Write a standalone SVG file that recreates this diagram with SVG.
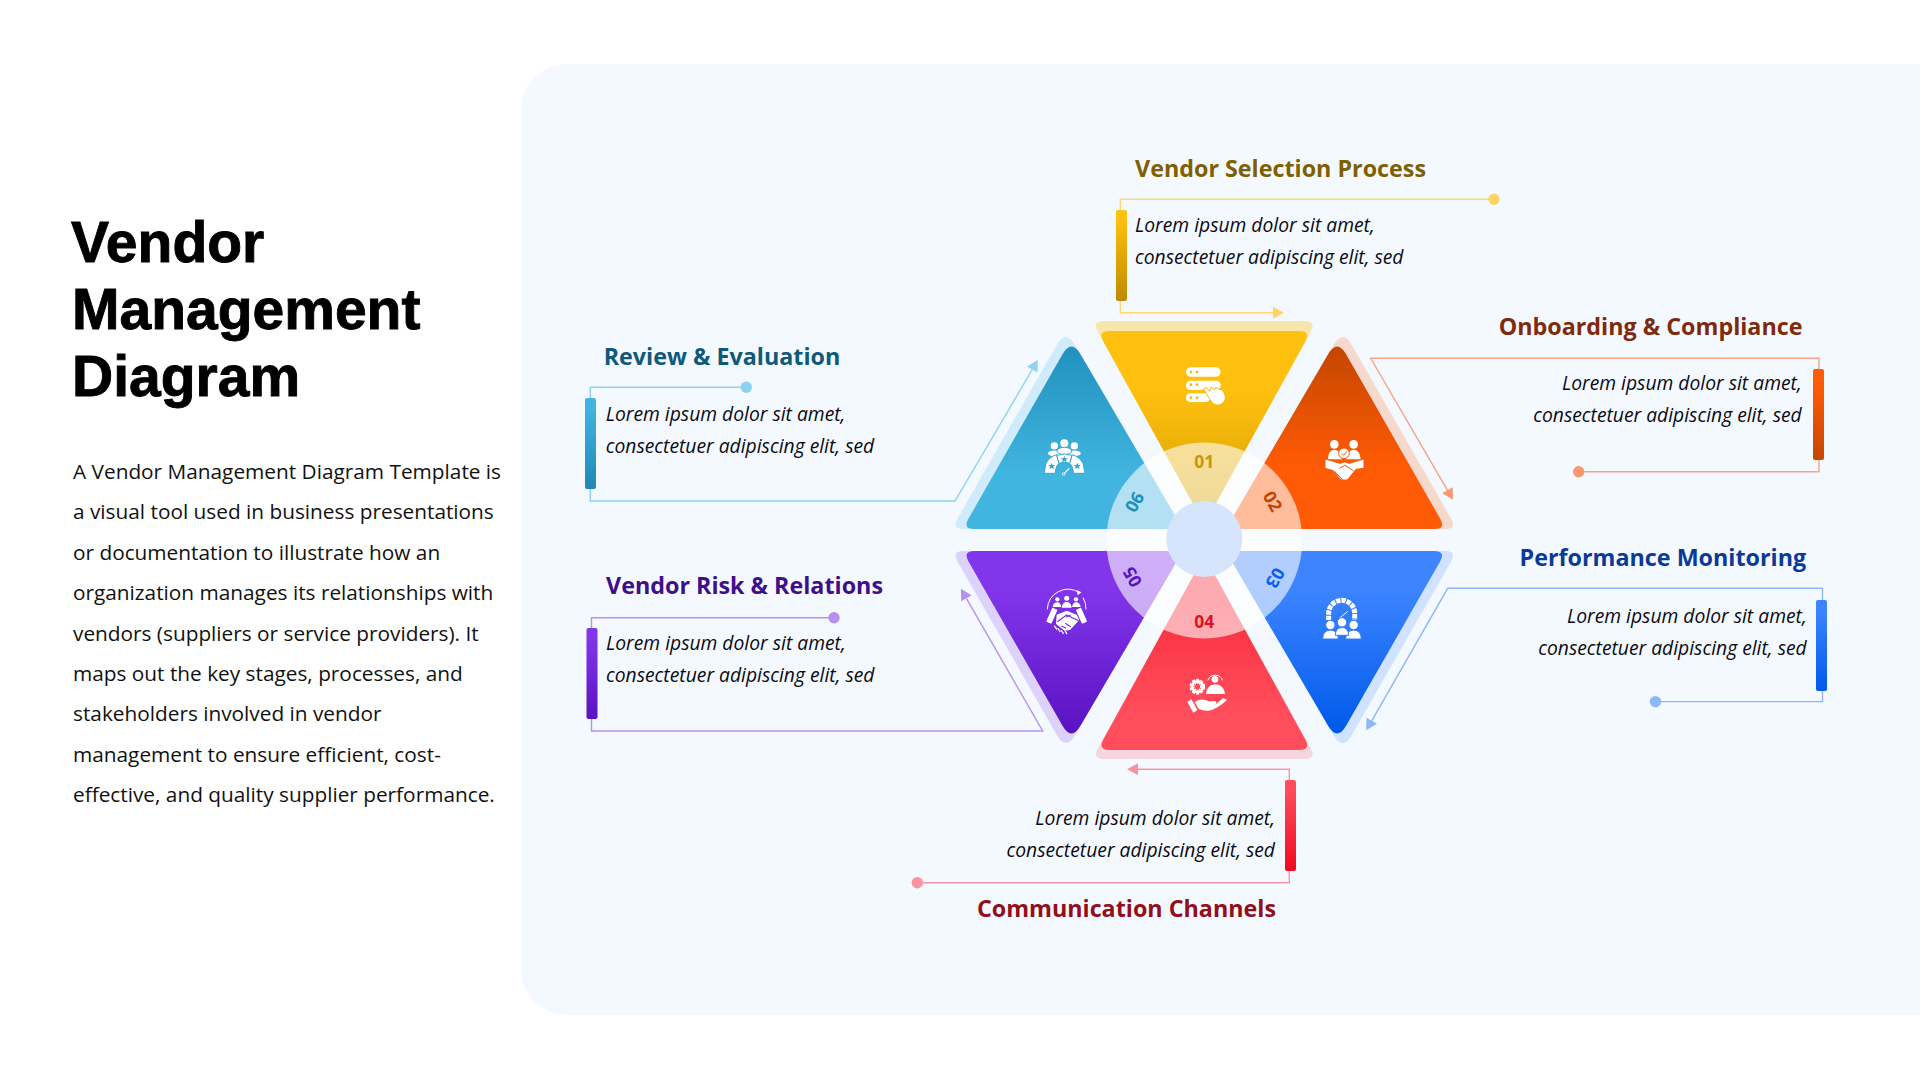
<svg xmlns="http://www.w3.org/2000/svg" width="1920" height="1080" viewBox="0 0 1920 1080">
<style>
.title{font:bold 57px "Liberation Sans",Arial,sans-serif;fill:#000;stroke:#000;stroke-width:.9}
.body{font:20.8px "Open Sans","Noto Sans",sans-serif;fill:#111}
.desc{font:italic 19.3px "Open Sans","Noto Sans",sans-serif;fill:#0a0a14}
.head{font:bold 23.3px "Open Sans","Noto Sans",sans-serif}
.end{text-anchor:end}
.num{font:bold 17.5px "Noto Sans","Open Sans",sans-serif;text-anchor:middle;dominant-baseline:central}
.conn{fill:none;stroke-width:1.4}
.ic{fill:#fff}
.icl{fill:none;stroke:#fff;stroke-linecap:round}
</style>
<defs>
<linearGradient id="gy" x1="0" y1="0" x2="0" y2="1"><stop offset=".3" stop-color="#FFC00F"/><stop offset="1" stop-color="#D39F00"/></linearGradient>
<linearGradient id="go" x1="0" y1="0" x2="0" y2="1"><stop offset="0" stop-color="#C44600"/><stop offset=".65" stop-color="#FF5A05"/></linearGradient>
<linearGradient id="gb" x1="0" y1="0" x2="0" y2="1"><stop offset=".2" stop-color="#3D85FF"/><stop offset="1" stop-color="#0059EA"/></linearGradient>
<linearGradient id="gr" x1="0" y1="0" x2="0" y2="1"><stop offset=".2" stop-color="#F92C3B"/><stop offset=".8" stop-color="#FF4D5C"/></linearGradient>
<linearGradient id="gp" x1="0" y1="0" x2="0" y2="1"><stop offset=".2" stop-color="#8236EC"/><stop offset="1" stop-color="#5A12C2"/></linearGradient>
<linearGradient id="gc" x1="0" y1="0" x2="0" y2="1"><stop offset="0" stop-color="#2191BD"/><stop offset=".7" stop-color="#41B4E0"/></linearGradient>
<linearGradient id="by" x1="0" y1="0" x2="0" y2="1"><stop offset=".1" stop-color="#FFC00F"/><stop offset="1" stop-color="#BF8A00"/></linearGradient>
<linearGradient id="bo" x1="0" y1="0" x2="0" y2="1"><stop offset=".2" stop-color="#FF5A05"/><stop offset="1" stop-color="#C44600"/></linearGradient>
<linearGradient id="bb" x1="0" y1="0" x2="0" y2="1"><stop offset=".1" stop-color="#3D85FF"/><stop offset="1" stop-color="#0059EA"/></linearGradient>
<linearGradient id="br" x1="0" y1="0" x2="0" y2="1"><stop offset=".1" stop-color="#FF4D5C"/><stop offset="1" stop-color="#F00A1E"/></linearGradient>
<linearGradient id="bp" x1="0" y1="0" x2="0" y2="1"><stop offset=".1" stop-color="#8236EC"/><stop offset="1" stop-color="#5A12C2"/></linearGradient>
<linearGradient id="bc" x1="0" y1="0" x2="0" y2="1"><stop offset=".1" stop-color="#41B4E0"/><stop offset="1" stop-color="#2088B5"/></linearGradient>
<marker id="my" markerUnits="userSpaceOnUse" markerWidth="12" markerHeight="12" refX="0" refY="6" orient="auto" overflow="visible"><path d="M0 0L11 6L0 12Z" fill="#FFD466"/></marker>
<marker id="mo" markerUnits="userSpaceOnUse" markerWidth="12" markerHeight="12" refX="0" refY="6" orient="auto" overflow="visible"><path d="M0 0L11 6L0 12Z" fill="#F9976F"/></marker>
<marker id="mb" markerUnits="userSpaceOnUse" markerWidth="12" markerHeight="12" refX="0" refY="6" orient="auto" overflow="visible"><path d="M0 0L11 6L0 12Z" fill="#8DB8F8"/></marker>
<marker id="mr" markerUnits="userSpaceOnUse" markerWidth="12" markerHeight="12" refX="0" refY="6" orient="auto" overflow="visible"><path d="M0 0L11 6L0 12Z" fill="#FB939E"/></marker>
<marker id="mp" markerUnits="userSpaceOnUse" markerWidth="12" markerHeight="12" refX="0" refY="6" orient="auto" overflow="visible"><path d="M0 0L11 6L0 12Z" fill="#B790EE"/></marker>
<marker id="mc" markerUnits="userSpaceOnUse" markerWidth="12" markerHeight="12" refX="0" refY="6" orient="auto" overflow="visible"><path d="M0 0L11 6L0 12Z" fill="#8DD2EE"/></marker>
</defs>
<rect width="1920" height="1080" fill="#fff"/>
<rect x="521" y="64" width="1450" height="951" rx="46" fill="#F4F9FF"/>

<g id="heading">
<text class="title" x="71" y="261.7">Vendor</text>
<text class="title" x="72" y="328.5">Management</text>
<text class="title" x="72" y="396">Diagram</text>
<g class="body">
<text x="73" y="479">A Vendor Management Diagram Template is</text>
<text x="73" y="519.4">a visual tool used in business presentations</text>
<text x="73" y="559.8">or documentation to illustrate how an</text>
<text x="73" y="600.2">organization manages its relationships with</text>
<text x="73" y="640.6">vendors (suppliers or service providers). It</text>
<text x="73" y="681">maps out the key stages, processes, and</text>
<text x="73" y="721.4">stakeholders involved in vendor</text>
<text x="73" y="761.8">management to ensure efficient, cost-</text>
<text x="73" y="802.2">effective, and quality supplier performance.</text>
</g>
</g>

<g id="connectors">
<path class="conn" stroke="#FFD86F" d="M1494 199.3H1120.3V312.7H1273" marker-end="url(#my)"/><circle cx="1494" cy="199.3" r="5.7" fill="#FFD466"/>
<path class="conn" stroke="#F7A283" d="M1578.7 471.7H1819V358.3H1370.7L1447.5 490.3" marker-end="url(#mo)"/><circle cx="1578.7" cy="471.7" r="5.7" fill="#F9976F"/>
<path class="conn" stroke="#8DB8F5" d="M1655.5 701.6H1822.5V588.3H1447.7L1371.7 720.8" marker-end="url(#mb)"/><circle cx="1655.5" cy="701.6" r="5.7" fill="#8DB8F8"/>
<path class="conn" stroke="#FB96A0" d="M917.3 882.7H1289.3V769.3H1138" marker-end="url(#mr)"/><circle cx="917.3" cy="882.7" r="5.7" fill="#FB939E"/>
<path class="conn" stroke="#B990EE" d="M834 617.8H591.5V731H1042.7L966.4 598.3" marker-end="url(#mp)"/><circle cx="834" cy="617.8" r="5.7" fill="#B790EE"/>
<path class="conn" stroke="#8DD2EE" d="M746.3 387.3H590.3V501H955L1032.3 369.5" marker-end="url(#mc)"/><circle cx="746.3" cy="387.3" r="5.7" fill="#8DD2EE"/>
</g>

<g id="node-01">
<g transform="translate(1204.3 540)">
<path fill="#FFC00F" opacity=".35" d="M-100.3 -219H100.3Q112.3 -219 106.5 -208.5L0 -15.7L-106.5 -208.5Q-112.3 -219 -100.3 -219Z"/>
<path fill="url(#gy)" d="M-94.8 -209H94.8Q106.8 -209 101 -198.5L0 -15.7L-101 -198.5Q-106.8 -209 -94.8 -209Z"/>
</g>
<g transform="translate(1100 320) scale(.3333)">
<rect class="ic" x="258" y="142" width="104" height="28" rx="14"/><rect class="ic" x="258" y="182" width="104" height="28" rx="14"/><rect class="ic" x="258" y="220" width="72" height="26" rx="13"/>
<g fill="#F5B60A"><circle cx="273" cy="156" r="4"/><circle cx="291" cy="156" r="4"/><circle cx="273" cy="194" r="4"/><circle cx="291" cy="194" r="4"/><circle cx="273" cy="233" r="4"/><circle cx="291" cy="233" r="4"/></g>
<path class="ic" stroke="#F5B60A" stroke-width="5" paint-order="stroke" d="M312 208L318 204L330 216L334 204L343 210L349 204L358 210L364 210C372 216 376 228 374 238C370 252 356 257 344 252C334 247 328 232 312 208Z"/>
</g>
<text class="head" fill="#7F6000" x="1135" y="177">Vendor Selection Process</text>
<rect x="1116" y="210" width="11" height="91" rx="2" fill="url(#by)"/>
<text class="desc" x="1135" y="231.7">Lorem ipsum dolor sit amet,</text>
<text class="desc" x="1135" y="263.5">consectetuer adipiscing elit, sed</text>
</g>

<g id="node-02">
<g transform="translate(1204.3 540)">
<path fill="#FF5A05" opacity=".2" d="M129.4 -195.3Q138.5 -210.8 147.4 -195.2L246.8 -21.4Q252.8 -11 240.8 -11H21.4Z"/>
<path fill="url(#go)" d="M123.8 -185.8Q132.9 -201.3 141.8 -185.7L235.8 -21.4Q241.8 -11 229.8 -11H21.4Z"/>
</g>
<g transform="translate(1300 400) scale(.3333)">
<circle class="ic" cx="103" cy="133" r="13"/><circle class="ic" cx="161" cy="133" r="13"/>
<path class="ic" d="M84 178Q84 150 103 149Q122 150 126 178ZM138 178Q142 150 161 149Q180 150 182 178Z"/>
<path class="ic" stroke="#F3590A" stroke-width="3" d="M75 177L120 190L134 186L148 190L192 177V205L168 208L142 240L122 240L100 212L75 205Z"/>
<circle class="ic" stroke="#F3590A" stroke-width="3" cx="132" cy="160" r="16"/>
<path fill="none" stroke="#F3590A" stroke-width="3" d="M125 160L131 166L140 154M118 205L135 196L160 212M104 214L128 240"/>
</g>
<text class="head end" fill="#7F2A0C" x="1802.5" y="334.5">Onboarding &amp; Compliance</text>
<rect x="1813" y="369" width="11" height="91" rx="2" fill="url(#bo)"/>
<text class="desc end" x="1801.7" y="390">Lorem ipsum dolor sit amet,</text>
<text class="desc end" x="1801.7" y="422">consectetuer adipiscing elit, sed</text>
</g>

<g id="node-03">
<g transform="translate(1204.3 540)">
<path fill="#3D85FF" opacity=".2" d="M129.4 195.3Q138.5 210.8 147.4 195.2L246.8 21.4Q252.8 11 240.8 11H21.4Z"/>
<path fill="url(#gb)" d="M123.8 185.8Q132.9 201.3 141.8 185.7L235.8 21.4Q241.8 11 229.8 11H21.4Z"/>
</g>
<g transform="translate(1300 560) scale(.3333)">
<path class="icl" stroke-width="15" stroke-dasharray="13 3" d="M86 180V160A39 39 0 0 1 164 160V180" style="stroke-linecap:butt"/>
<path class="icl" stroke-width="3" d="M118 175L142 155"/>
<g class="ic" stroke="#2F7BFB" stroke-width="3">
<circle cx="91" cy="195" r="14"/><circle cx="161" cy="195" r="14"/>
<path d="M68 237Q68 212 91 210Q115 212 115 237ZM137 237Q137 212 161 210Q184 212 184 237Z"/>
<path d="M106 226Q106 204 126 202Q146 204 146 226Z"/>
<circle cx="126" cy="187" r="14"/>
</g>
</g>
<text class="head" fill="#0B3A96" x="1519.6" y="566">Performance Monitoring</text>
<rect x="1816" y="600" width="11" height="91" rx="2" fill="url(#bb)"/>
<text class="desc end" x="1806.7" y="622.6">Lorem ipsum dolor sit amet,</text>
<text class="desc end" x="1806.7" y="654.6">consectetuer adipiscing elit, sed</text>
</g>

<g id="node-04">
<g transform="translate(1204.3 540)">
<path fill="#FF4D5C" opacity=".2" d="M-100.3 219H100.3Q112.3 219 106.5 208.5L0 15.7L-106.5 208.5Q-112.3 219 -100.3 219Z"/>
<path fill="url(#gr)" d="M-94.8 210H94.8Q106.8 210 101 199.5L0 15.7L-101 199.5Q-106.8 210 -94.8 210Z"/>
</g>
<g transform="translate(1110 620) scale(.3333)">
<circle class="icl" cx="262" cy="200" r="16" stroke-width="15" stroke-dasharray="7 3.1" style="stroke-linecap:butt"/>
<circle cx="262" cy="200" r="16" fill="none" stroke="#fff" stroke-width="8"/>
<circle class="ic" cx="315" cy="178" r="10"/>
<path class="icl" stroke-width="3" d="M294 180A22 18 0 0 1 337 180"/>
<path class="ic" d="M288 222Q290 195 316 193Q342 195 345 222Z"/>
<path class="ic" d="M232 246L244 238L262 270L250 278Z"/>
<path class="ic" d="M254 246Q272 232 296 244H318Q322 250 316 254L340 234L351 240Q322 268 295 272Q278 273 266 266Z"/>
</g>
<text class="head end" fill="#930E1A" x="1276" y="916.7">Communication Channels</text>
<rect x="1285" y="780" width="11" height="91" rx="2" fill="url(#br)"/>
<text class="desc end" x="1275" y="825">Lorem ipsum dolor sit amet,</text>
<text class="desc end" x="1275" y="856.7">consectetuer adipiscing elit, sed</text>
</g>

<g id="node-05">
<g transform="translate(1204.3 540)">
<path fill="#8236EC" opacity=".2" d="M-129.4 195.3Q-138.5 210.8 -147.4 195.2L-246.8 21.4Q-252.8 11 -240.8 11H-21.4Z"/>
<path fill="url(#gp)" d="M-123.8 185.8Q-132.9 201.3 -141.8 185.7L-235.8 21.4Q-241.8 11 -229.8 11H-21.4Z"/>
</g>
<g transform="translate(1020 560) scale(.3333)">
<path class="icl" stroke-width="3" d="M82 147A62 62 0 0 1 178 98M198 147A62 62 0 0 0 190 114"/>
<path class="ic" d="M170 90L184 97L173 106Z"/>
<circle class="ic" cx="112" cy="118" r="6.5"/><circle class="ic" cx="140" cy="115" r="7.5"/><circle class="ic" cx="168" cy="118" r="6.5"/>
<path class="ic" d="M98 141Q100 127 112 127Q121 127 124 141ZM125 143Q127 126 140 126Q153 126 155 143ZM156 141Q159 127 168 127Q180 127 182 141Z"/>
<rect class="ic" x="87" y="144" width="17" height="46" rx="3" transform="rotate(24 95 167)"/>
<rect class="ic" x="176" y="144" width="17" height="46" rx="3" transform="rotate(-24 185 167)"/>
<path class="ic" d="M110 164L140 152L170 164L178 180L150 210L134 212L108 192Z"/>
<path fill="none" stroke="#7C30E4" stroke-width="3.5" d="M112 185L140 165L176 182M138 172L152 165M124 198L138 205M136 190L152 200"/>
<path class="icl" stroke-width="4" d="M104 199L110 207M114 206L120 214M124 212L130 220M136 214L140 221"/>
</g>
<text class="head" fill="#3F0F8A" x="606" y="594">Vendor Risk &amp; Relations</text>
<rect x="586.5" y="628" width="11" height="91" rx="2" fill="url(#bp)"/>
<text class="desc" x="606" y="650">Lorem ipsum dolor sit amet,</text>
<text class="desc" x="606" y="681.7">consectetuer adipiscing elit, sed</text>
</g>

<g id="node-06">
<g transform="translate(1204.3 540)">
<path fill="#41B4E0" opacity=".2" d="M-129.4 -195.3Q-138.5 -210.8 -147.4 -195.2L-246.8 -21.4Q-252.8 -11 -240.8 -11H-21.4Z"/>
<path fill="url(#gc)" d="M-123.8 -185.8Q-132.9 -201.3 -141.8 -185.7L-235.8 -21.4Q-241.8 -11 -229.8 -11H-21.4Z"/>
</g>
<g transform="translate(1020 400) scale(.3333)">
<circle class="ic" cx="103" cy="138" r="11"/><circle class="ic" cx="163" cy="138" r="11"/><circle class="ic" cx="133" cy="130" r="12"/>
<g class="ic" stroke="#36A5D2" stroke-width="3">
<ellipse cx="103" cy="160" rx="21" ry="10"/><ellipse cx="163" cy="160" rx="21" ry="10"/><ellipse cx="133" cy="153" rx="22" ry="11"/>
<path d="M72 220L78 190Q88 170 110 164L117 190Q107 198 106 220Z"/>
<path d="M195 220L189 190Q179 170 156 164L149 190Q159 198 160 220Z"/>
<path d="M110 166Q133 158 156 166L149 190Q133 184 117 190Z"/>
</g>
<g fill="#36A5D2"><path d="M133 168L136 175L143 175L138 180L140 187L133 183L126 187L128 180L123 175L130 175Z"/><path d="M95 188L98 195L105 195L100 200L102 207L95 203L88 207L90 200L85 195L92 195Z"/><path d="M172 188L175 195L182 195L177 200L179 207L172 203L165 207L167 200L162 195L169 195Z"/></g>
<path class="icl" stroke-width="3.5" d="M135 218L147 206"/>
<circle cx="131" cy="222" r="4" fill="none" stroke="#fff" stroke-width="2.5"/>
</g>
<text class="head" fill="#0F5A78" x="603.7" y="365">Review &amp; Evaluation</text>
<rect x="585" y="398" width="11" height="91" rx="2" fill="url(#bc)"/>
<text class="desc" x="605.7" y="421">Lorem ipsum dolor sit amet,</text>
<text class="desc" x="605.7" y="452.7">consectetuer adipiscing elit, sed</text>
</g>

<g id="hub">
<circle cx="1204.3" cy="540.5" r="98" fill="#fff" opacity=".6"/>
<circle cx="1204.3" cy="539" r="38" fill="#D6E4FC"/>
</g>

<g id="numbers" transform="translate(1204.3 540)">
<text class="num" fill="#C8960F" x="0" y="-78.7">01</text>
<text class="num" fill="#BF4500" transform="translate(68.9 -39) rotate(60)">02</text>
<text class="num" fill="#0A5FEE" transform="translate(71.4 38.3) rotate(120)">03</text>
<text class="num" fill="#E5101F" x="0" y="81">04</text>
<text class="num" fill="#5A14C4" transform="translate(-72.5 37.3) rotate(240)">05</text>
<text class="num" fill="#1E8FBD" transform="translate(-70.4 -38.3) rotate(300)">06</text>
</g>
</svg>
